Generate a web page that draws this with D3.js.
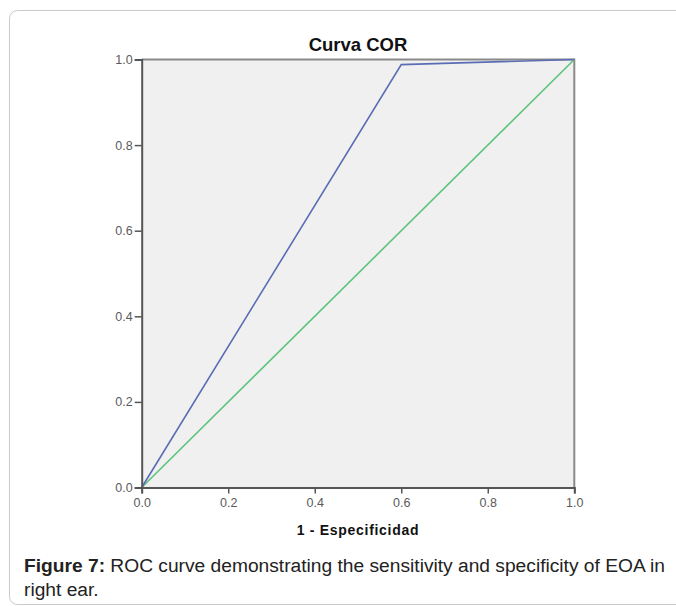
<!DOCTYPE html>
<html>
<head>
<meta charset="utf-8">
<script src="https://cdn.jsdelivr.net/npm/d3@7"></script>
<style>
  html, body { margin: 0; padding: 0; background: #ffffff; }
  svg { display: block; }
  text { font-family: "Liberation Sans", Arial, sans-serif; }
</style>
</head>
<body>
<svg id="chart" width="676" height="606"></svg>
<script>
// ROC curve (1 - specificity vs. sensitivity)
const rocFpr = [0, 0.6, 1];
const rocTpr = [0, 0.988, 1];
// Chance diagonal
const refFpr = [0, 1];
const refTpr = [0, 1];
const tickValues = [0, 0.2, 0.4, 0.6, 0.8, 1.0];
const chartTitle = "Curva COR";
const xAxisTitle = "1 - Especificidad";
const captionBold = "Figure 7:";
const captionLine1 = " ROC curve demonstrating the sensitivity and specificity of EOA in";
const captionLine2 = "right ear.";

const svg = d3.select("#chart");

// Card outline around figure and caption
svg.append("rect")
  .attr("x", 9.5).attr("y", 10.5)
  .attr("width", 720).attr("height", 594)
  .attr("rx", 8).attr("ry", 8)
  .attr("fill", "#ffffff")
  .attr("stroke", "#c9c9c9")
  .attr("stroke-width", 1);

const x = d3.scaleLinear().domain([0, 1]).range([141.7, 574.3]);
const y = d3.scaleLinear().domain([0, 1]).range([487.5, 59.5]);

// Plot background
svg.append("rect")
  .attr("x", x(0)).attr("y", y(1))
  .attr("width", x(1) - x(0)).attr("height", y(0) - y(1))
  .attr("fill", "#f0f0f0");

// Top and right frame
svg.append("path")
  .attr("d", `M${x(0)},${y(1)}H${x(1)}V${y(0)}`)
  .attr("fill", "none")
  .attr("stroke", "#8a8a8a")
  .attr("stroke-width", 2);

// Lines
const line = d3.line().x(d => x(d[0])).y(d => y(d[1]));

svg.append("path")
  .datum(d3.zip(refFpr, refTpr))
  .attr("d", line)
  .attr("fill", "none")
  .attr("stroke", "#5cc47a")
  .attr("stroke-width", 1.6);

svg.append("path")
  .datum(d3.zip(rocFpr, rocTpr))
  .attr("d", line)
  .attr("fill", "none")
  .attr("stroke", "#5a6cb4")
  .attr("stroke-width", 1.6);

// Axes
const fmt = d3.format(".1f");
const xAxis = svg.append("g")
  .attr("transform", `translate(0,${y(0)})`)
  .call(d3.axisBottom(x).tickValues(tickValues).tickFormat(fmt).tickSize(6).tickPadding(5));
const yAxis = svg.append("g")
  .attr("transform", `translate(${x(0)},0)`)
  .call(d3.axisLeft(y).tickValues(tickValues).tickFormat(fmt).tickSize(7).tickPadding(2));

[xAxis, yAxis].forEach(g => {
  g.select(".domain").attr("stroke", "#555555").attr("stroke-width", 2);
  g.selectAll(".tick line").attr("stroke", "#555555").attr("stroke-width", 1.5);
  g.selectAll(".tick text")
    .attr("fill", "#5a5a5a")
    .style("font-size", "12.5px")
    .style("font-family", "'Liberation Sans', Arial, sans-serif");
});

// Titles
svg.append("text")
  .attr("x", (x(0) + x(1)) / 2).attr("y", 51)
  .attr("text-anchor", "middle")
  .style("font-size", "18.5px")
  .style("font-weight", "bold")
  .attr("fill", "#111111")
  .text(chartTitle);

svg.append("text")
  .attr("x", (x(0) + x(1)) / 2).attr("y", 535)
  .attr("text-anchor", "middle")
  .style("font-size", "14px")
  .style("font-weight", "bold")
  .style("letter-spacing", "0.7px")
  .attr("fill", "#111111")
  .text(xAxisTitle);

// Caption
const cap = svg.append("text")
  .attr("x", 24).attr("y", 572)
  .style("font-size", "19.2px")
  .attr("fill", "#222222");
cap.append("tspan").style("font-weight", "bold").text(captionBold);
cap.append("tspan").text(captionLine1);

svg.append("text")
  .attr("x", 24).attr("y", 596)
  .style("font-size", "19.2px")
  .attr("fill", "#222222")
  .text(captionLine2);
</script>
</body>
</html>
